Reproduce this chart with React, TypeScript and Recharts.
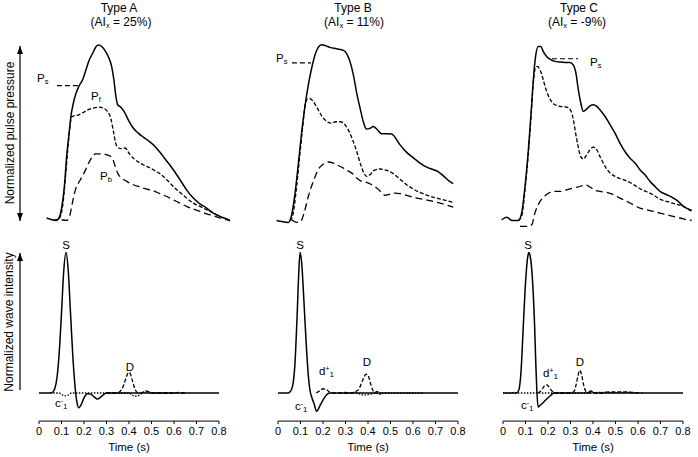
import { LineChart, Line, XAxis, YAxis, ReferenceLine } from 'recharts'

type Pt = [number, number]

// ---- pressure waveforms (time s, normalized pressure) ----
const typeAPressure: Pt[] = [[0.036,0.01],[0.059,0],[0.078,-0.004],[0.093,0.015],[0.104,0.076],[0.115,0.19],[0.125,0.362],[0.136,0.495],[0.144,0.59],[0.155,0.667],[0.167,0.724],[0.181,0.766],[0.196,0.8],[0.211,0.857],[0.226,0.914],[0.241,0.952],[0.256,0.99],[0.267,0.998],[0.281,0.99],[0.295,0.968],[0.31,0.933],[0.325,0.876],[0.335,0.8],[0.344,0.705],[0.352,0.657],[0.365,0.644],[0.38,0.619],[0.399,0.571],[0.421,0.524],[0.443,0.495],[0.466,0.472],[0.492,0.448],[0.518,0.419],[0.537,0.39],[0.554,0.362],[0.577,0.324],[0.599,0.286],[0.629,0.229],[0.658,0.171],[0.688,0.124],[0.717,0.091],[0.747,0.067],[0.777,0.038],[0.807,0.019],[0.836,0.004],[0.851,-0.004]]
const typeAForward: Pt[] = [[0.066,-0.004],[0.093,0.01],[0.107,0.076],[0.119,0.229],[0.13,0.4],[0.14,0.533],[0.147,0.587],[0.158,0.594],[0.177,0.598],[0.199,0.613],[0.221,0.629],[0.244,0.638],[0.27,0.644],[0.291,0.636],[0.306,0.619],[0.321,0.581],[0.333,0.505],[0.343,0.438],[0.355,0.41],[0.37,0.406],[0.384,0.41],[0.404,0.377],[0.426,0.347],[0.451,0.324],[0.481,0.305],[0.51,0.286],[0.54,0.263],[0.57,0.229],[0.599,0.19],[0.629,0.156],[0.658,0.124],[0.688,0.095],[0.718,0.076],[0.747,0.057],[0.777,0.038],[0.807,0.019],[0.836,0.004],[0.851,-0.004]]
const typeABackward: Pt[] = [[0.103,0],[0.125,-0.004],[0.14,0.029],[0.152,0.105],[0.164,0.171],[0.179,0.213],[0.193,0.244],[0.208,0.282],[0.223,0.324],[0.238,0.358],[0.254,0.377],[0.273,0.377],[0.296,0.373],[0.315,0.366],[0.33,0.347],[0.341,0.305],[0.353,0.263],[0.37,0.238],[0.392,0.219],[0.421,0.2],[0.451,0.187],[0.481,0.175],[0.51,0.166],[0.54,0.149],[0.57,0.133],[0.599,0.114],[0.629,0.095],[0.658,0.076],[0.688,0.061],[0.718,0.048],[0.747,0.034],[0.777,0.023],[0.807,0.01],[0.836,0],[0.851,-0.006]]

const typeBPressure: Pt[] = [[-0.004,-0.004],[0.019,-0.01],[0.048,-0.015],[0.063,0.029],[0.078,0.152],[0.093,0.324],[0.107,0.495],[0.122,0.648],[0.137,0.771],[0.152,0.867],[0.167,0.943],[0.181,0.985],[0.196,1.0],[0.211,0.996],[0.233,0.985],[0.263,0.977],[0.293,0.968],[0.307,0.949],[0.322,0.905],[0.337,0.829],[0.352,0.724],[0.367,0.638],[0.381,0.562],[0.396,0.518],[0.411,0.522],[0.426,0.533],[0.444,0.514],[0.463,0.491],[0.485,0.491],[0.507,0.49],[0.522,0.472],[0.544,0.429],[0.574,0.385],[0.604,0.354],[0.633,0.324],[0.663,0.301],[0.693,0.286],[0.715,0.274],[0.737,0.251],[0.759,0.225],[0.781,0.206]]
const typeBForward: Pt[] = [[0.056,-0.006],[0.07,0.038],[0.085,0.19],[0.1,0.381],[0.112,0.533],[0.122,0.648],[0.133,0.69],[0.144,0.693],[0.159,0.676],[0.177,0.638],[0.196,0.594],[0.219,0.562],[0.238,0.552],[0.26,0.56],[0.281,0.56],[0.3,0.543],[0.318,0.505],[0.334,0.457],[0.352,0.39],[0.37,0.314],[0.384,0.267],[0.396,0.248],[0.411,0.257],[0.429,0.282],[0.456,0.29],[0.485,0.282],[0.515,0.263],[0.544,0.232],[0.574,0.2],[0.604,0.175],[0.633,0.156],[0.663,0.141],[0.707,0.124],[0.752,0.109],[0.781,0.099]]
const typeBBackward: Pt[] = [[0.063,0],[0.085,-0.015],[0.103,-0.01],[0.118,0.038],[0.137,0.133],[0.159,0.219],[0.181,0.286],[0.204,0.318],[0.226,0.33],[0.248,0.324],[0.27,0.31],[0.293,0.295],[0.315,0.278],[0.334,0.263],[0.352,0.238],[0.374,0.219],[0.396,0.213],[0.419,0.2],[0.441,0.181],[0.463,0.156],[0.478,0.139],[0.5,0.147],[0.522,0.152],[0.544,0.149],[0.574,0.139],[0.619,0.124],[0.678,0.109],[0.737,0.09],[0.781,0.072]]

const typeCPressure: Pt[] = [[-0.004,0],[0.019,0.015],[0.041,-0.004],[0.07,-0.004],[0.085,0.038],[0.1,0.19],[0.115,0.4],[0.127,0.61],[0.137,0.8],[0.147,0.933],[0.159,0.99],[0.17,0.99],[0.181,0.962],[0.196,0.933],[0.211,0.918],[0.233,0.905],[0.256,0.901],[0.278,0.899],[0.3,0.899],[0.315,0.884],[0.327,0.834],[0.337,0.743],[0.348,0.667],[0.359,0.619],[0.371,0.629],[0.389,0.651],[0.404,0.657],[0.419,0.648],[0.433,0.629],[0.456,0.59],[0.478,0.543],[0.5,0.495],[0.522,0.438],[0.544,0.39],[0.567,0.352],[0.589,0.324],[0.611,0.286],[0.633,0.257],[0.656,0.219],[0.678,0.19],[0.7,0.162],[0.73,0.143],[0.759,0.124],[0.781,0.105],[0.804,0.076],[0.826,0.061],[0.841,0.053]]
const typeCForward: Pt[] = [[0.07,-0.004],[0.085,0.019],[0.1,0.171],[0.115,0.381],[0.127,0.59],[0.137,0.781],[0.146,0.867],[0.155,0.876],[0.167,0.857],[0.179,0.81],[0.19,0.758],[0.205,0.705],[0.226,0.663],[0.256,0.648],[0.285,0.644],[0.303,0.625],[0.315,0.571],[0.325,0.495],[0.336,0.419],[0.347,0.362],[0.359,0.347],[0.374,0.371],[0.389,0.4],[0.404,0.415],[0.419,0.4],[0.433,0.362],[0.456,0.305],[0.478,0.267],[0.507,0.244],[0.537,0.229],[0.567,0.213],[0.596,0.19],[0.626,0.168],[0.656,0.152],[0.7,0.118],[0.744,0.099],[0.774,0.088],[0.804,0.076],[0.841,0.048]]
const typeCBackward: Pt[] = [[0.078,-0.038],[0.107,-0.038],[0.13,-0.029],[0.144,0.038],[0.167,0.105],[0.189,0.137],[0.211,0.156],[0.233,0.162],[0.256,0.162],[0.285,0.171],[0.315,0.181],[0.344,0.19],[0.367,0.2],[0.389,0.187],[0.411,0.168],[0.433,0.162],[0.463,0.156],[0.493,0.143],[0.522,0.124],[0.552,0.105],[0.581,0.086],[0.611,0.067],[0.641,0.057],[0.67,0.048],[0.7,0.038],[0.73,0.029],[0.759,0.019],[0.789,0.01],[0.819,0],[0.841,-0.004]]

// ---- wave intensity (time s, normalized) ----
const typeAWave: Pt[] = [[0,0],[0.05,0],[0.06,0.005],[0.07,0.03],[0.08,0.11],[0.09,0.29],[0.1,0.57],[0.11,0.87],[0.12,1.0],[0.13,0.87],[0.14,0.57],[0.15,0.27],[0.16,0.05],[0.168,-0.06],[0.177,-0.105],[0.187,-0.085],[0.2,-0.035],[0.215,-0.005],[0.23,-0.008],[0.245,-0.028],[0.26,-0.043],[0.275,-0.028],[0.29,-0.008],[0.3,0],[0.8,0]]
const typeAWaveDashed: Pt[] = [[0.3,0],[0.34,0],[0.355,0.005],[0.365,0.02],[0.375,0.05],[0.385,0.1],[0.395,0.14],[0.4,0.147],[0.405,0.14],[0.415,0.09],[0.425,0.035],[0.435,0.005],[0.445,0],[0.46,0.005],[0.475,0.015],[0.49,0.008],[0.5,0],[0.61,0],[0.62,0.005],[0.63,0],[0.65,0]]
const typeAWaveDotted: Pt[] = [[0.05,0],[0.09,0],[0.1,-0.01],[0.115,-0.02],[0.13,-0.015],[0.145,0],[0.4,0],[0.41,-0.01],[0.425,-0.022],[0.44,-0.02],[0.455,-0.005],[0.47,0.008],[0.485,0.008],[0.5,0],[0.6,0]]

const typeBWave: Pt[] = [[0,0],[0.045,0],[0.055,0.01],[0.065,0.05],[0.075,0.2],[0.085,0.55],[0.092,0.85],[0.098,1.0],[0.105,0.93],[0.115,0.66],[0.125,0.36],[0.135,0.12],[0.142,0.02],[0.15,-0.03],[0.16,-0.075],[0.172,-0.131],[0.185,-0.095],[0.2,-0.05],[0.215,-0.015],[0.23,0],[0.8,0]]
const typeBWaveDashed: Pt[] = [[0.17,0],[0.185,0.015],[0.2,0.03],[0.215,0.025],[0.23,0.005],[0.24,0],[0.33,0],[0.345,0.01],[0.36,0.03],[0.37,0.065],[0.38,0.105],[0.39,0.132],[0.395,0.133],[0.402,0.12],[0.41,0.075],[0.42,0.025],[0.43,0.003],[0.44,0.012],[0.45,0.005],[0.46,0]]
const typeBWaveDotted: Pt[] = [[0.28,0],[0.3,0.004],[0.32,0.002],[0.34,0.005],[0.36,-0.005],[0.38,-0.015],[0.4,-0.012],[0.42,-0.005],[0.44,-0.002],[0.455,-0.01],[0.47,0],[0.65,0]]

const typeCWave: Pt[] = [[0,0],[0.06,0],[0.07,0.02],[0.08,0.15],[0.09,0.47],[0.1,0.78],[0.11,0.97],[0.115,1.0],[0.12,0.98],[0.13,0.83],[0.14,0.5],[0.146,0.2],[0.15,0.03],[0.156,-0.1],[0.17,-0.08],[0.19,-0.05],[0.21,-0.02],[0.226,0],[0.375,0],[0.39,0.015],[0.405,0],[0.8,0]]
const typeCWaveDashed: Pt[] = [[0.155,0],[0.165,0.01],[0.175,0.03],[0.185,0.052],[0.193,0.059],[0.2,0.052],[0.21,0.03],[0.22,0.01],[0.23,0],[0.3,0],[0.315,0.01],[0.325,0.06],[0.333,0.12],[0.341,0.161],[0.35,0.125],[0.358,0.06],[0.367,0.015],[0.375,0],[0.44,0],[0.46,0.006],[0.5,0.008],[0.54,0.008],[0.58,0.004],[0.62,0]]
const typeCWaveDotted: Pt[] = [[0,0.002],[0.02,-0.003],[0.04,0.003],[0.06,0],[0.4,0],[0.42,0.004],[0.46,0.004],[0.5,0.002],[0.55,0.004],[0.6,0]]

const timeTicks = [0, 0.1, 0.2, 0.3, 0.4, 0.5, 0.6, 0.7, 0.8]

// Ps leader lines in data units: [t0, t1, level]
const leaderA: [number, number, number] = [0.082, 0.176, 0.766]
const leaderB: [number, number, number] = [0.064, 0.149, 0.897]
const leaderC: [number, number, number] = [0.22, 0.336, 0.92]

const PX_PER_S = 225
const rows = (pts: Pt[]) => pts.map(([t, v]) => ({ t, v }))

function trace(pts: Pt[], dash?: string, width = 1.3) {
  return (
    <Line
      data={rows(pts)}
      dataKey="v"
      type="monotone"
      stroke="#000"
      strokeWidth={width}
      strokeDasharray={dash}
      dot={false}
      activeDot={false}
      isAnimationActive={false}
    />
  )
}

function PressurePanel({ left, solid, fwd, bwd, leader }: { left: number; solid: Pt[]; fwd: Pt[]; bwd: Pt[]; leader: [number, number, number] }) {
  return (
    <div style={{ position: 'absolute', left: left - 0.02 * PX_PER_S, top: 36.25 }}>
      <LineChart width={0.9 * PX_PER_S} height={194.25} margin={{ top: 0, right: 0, bottom: 0, left: 0 }}>
        <XAxis type="number" dataKey="t" domain={[-0.02, 0.88]} allowDataOverflow hide />
        <YAxis type="number" domain={[-0.06, 1.05]} allowDataOverflow hide />
        <ReferenceLine segment={[{ x: leader[0], y: leader[2] }, { x: leader[1], y: leader[2] }]} stroke="#000" strokeWidth={1.2} strokeDasharray="5 3" />
        {trace(bwd, '7 4')}
        {trace(fwd, '4 2')}
        {trace(solid, undefined, 1.5)}
      </LineChart>
    </div>
  )
}

function WavePanel({ left, solid, dashed, dotted }: { left: number; solid: Pt[]; dashed: Pt[]; dotted: Pt[] }) {
  return (
    <div style={{ position: 'absolute', left: left - 12, top: 244.3 }}>
      <LineChart width={180 + 24} height={213.1} margin={{ top: 0, right: 12, bottom: 6, left: 12 }}>
        <XAxis
          type="number"
          dataKey="t"
          domain={[0, 0.8]}
          ticks={timeTicks}
          interval={0}
          tickFormatter={(v: number) => (v === 0 ? '0' : v.toFixed(1))}
          height={30}
          tickSize={3}
          tickMargin={3}
          axisLine={{ stroke: '#000' }}
          tickLine={{ stroke: '#000' }}
          tick={{ fill: '#000', fontSize: 11 }}
          label={{ value: 'Time (s)', position: 'insideBottom', offset: 0, fill: '#000', fontSize: 11.5 }}
        />
        <YAxis type="number" domain={[-0.2, 1.06]} allowDataOverflow hide />
        {trace(dotted, '1.5 1.5')}
        {trace(dashed, '4 2')}
        {trace(solid, undefined, 1.5)}
      </LineChart>
    </div>
  )
}

const sub = (s: string) => <tspan fontSize={7.5} dy={2}>{s}</tspan>

function Overlay() {
  const t = { fill: '#000', fontSize: 11.5 }
  const title = { fill: '#000', fontSize: 12 }
  return (
    <svg width={698} height={457} style={{ position: 'absolute', left: 0, top: 0, pointerEvents: 'none' }}>
      <defs>
        <marker id="ah" markerWidth="9" markerHeight="6" refX="8" refY="3" orient="auto-start-reverse" markerUnits="userSpaceOnUse">
          <path d="M0,0 L8,3 L0,6 z" fill="#000" />
        </marker>
      </defs>
      {/* titles */}
      <text x={119} y={12} textAnchor="middle" {...title}>Type A</text>
      <text x={121} y={26} textAnchor="middle" {...title}>(AI{sub('x')}<tspan dy={-2}> = 25%)</tspan></text>
      <text x={353} y={12} textAnchor="middle" {...title}>Type B</text>
      <text x={354} y={26} textAnchor="middle" {...title}>(AI{sub('x')}<tspan dy={-2}> = 11%)</tspan></text>
      <text x={579} y={12} textAnchor="middle" {...title}>Type C</text>
      <text x={577} y={26} textAnchor="middle" {...title}>(AI{sub('x')}<tspan dy={-2}> = -9%)</tspan></text>

      {/* y-axis arrows and labels */}
      <line x1={20} y1={46} x2={20} y2={221} stroke="#000" strokeWidth={1.2} markerStart="url(#ah)" markerEnd="url(#ah)" />
      <line x1={20} y1={390} x2={20} y2={253} stroke="#000" strokeWidth={1.2} markerEnd="url(#ah)" />
      <text x={0} y={0} transform="translate(14,133) rotate(-90)" textAnchor="middle" fill="#000" fontSize={12}>Normalized pulse pressure</text>
      <text x={0} y={0} transform="translate(13,322) rotate(-90)" textAnchor="middle" fill="#000" fontSize={12}>Normalized wave intensity</text>

      {/* pressure labels */}
      <text x={37} y={82} {...t}>P{sub('s')}</text>
      <text x={91} y={100} {...t}>P{sub('f')}</text>
      <text x={100} y={180} {...t}>P{sub('b')}</text>
      <text x={276} y={62} {...t}>P{sub('s')}</text>
      <text x={590} y={66} {...t}>P{sub('s')}</text>

      {/* wave intensity labels */}
      <text x={66} y={249} textAnchor="middle" {...t}>S</text>
      <text x={130} y={371} textAnchor="middle" {...t}>D</text>
      <text x={55} y={407} {...t}>c<tspan fontSize={7} dy={-4}>-</tspan><tspan fontSize={8} dy={6}>1</tspan></text>

      <text x={300} y={249} textAnchor="middle" {...t}>S</text>
      <text x={319} y={375} {...t}>d<tspan fontSize={7} dy={-4}>+</tspan><tspan fontSize={8} dy={6}>1</tspan></text>
      <text x={367} y={366} textAnchor="middle" {...t}>D</text>
      <text x={295} y={410} {...t}>c<tspan fontSize={7} dy={-4}>-</tspan><tspan fontSize={8} dy={6}>1</tspan></text>

      <text x={528} y={249} textAnchor="middle" {...t}>S</text>
      <text x={543} y={377} {...t}>d<tspan fontSize={7} dy={-4}>+</tspan><tspan fontSize={8} dy={6}>1</tspan></text>
      <text x={580} y={366} textAnchor="middle" {...t}>D</text>
      <text x={521} y={409} {...t}>c<tspan fontSize={7} dy={-4}>-</tspan><tspan fontSize={8} dy={6}>1</tspan></text>
    </svg>
  )
}

export default function App() {
  return (
    <div style={{ position: 'absolute', left: 0, top: 0, width: 698, height: 457, background: '#fff', fontFamily: '"Liberation Sans", Arial, sans-serif', overflow: 'hidden' }}>
      <PressurePanel left={38.5} solid={typeAPressure} fwd={typeAForward} bwd={typeABackward} leader={leaderA} />
      <PressurePanel left={277.5} solid={typeBPressure} fwd={typeBForward} bwd={typeBBackward} leader={leaderB} />
      <PressurePanel left={502.5} solid={typeCPressure} fwd={typeCForward} bwd={typeCBackward} leader={leaderC} />
      <WavePanel left={38.5} solid={typeAWave} dashed={typeAWaveDashed} dotted={typeAWaveDotted} />
      <WavePanel left={277.5} solid={typeBWave} dashed={typeBWaveDashed} dotted={typeBWaveDotted} />
      <WavePanel left={502.5} solid={typeCWave} dashed={typeCWaveDashed} dotted={typeCWaveDotted} />
      <Overlay />
    </div>
  )
}
